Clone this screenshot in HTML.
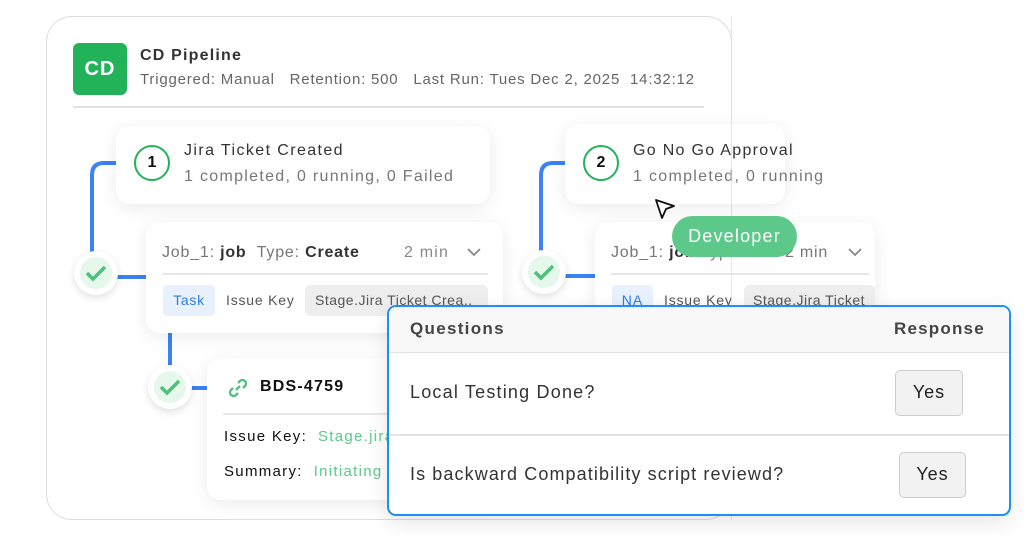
<!DOCTYPE html>
<html><head><meta charset="utf-8"><style>
*{box-sizing:border-box;margin:0;padding:0}
body{width:1034px;height:557px;background:#fff;position:relative;overflow:hidden;font-family:"Liberation Sans",sans-serif;color:#333;letter-spacing:1px}
.a{position:absolute}
.card{position:absolute;background:#fff;border-radius:14px;box-shadow:0 4px 18px rgba(0,0,0,0.08)}
.t{position:absolute;white-space:nowrap}
.chk{position:absolute;width:44px;height:44px;border-radius:50%;background:#fff;box-shadow:0 3px 8px rgba(0,0,0,0.12)}
.chk i{position:absolute;left:6px;top:6px;width:32px;height:32px;border-radius:50%;background:#e6f7ec}
.chk svg{position:absolute;left:11px;top:12px}
.num{position:absolute;width:36px;height:36px;border:2.5px solid #22b35a;border-radius:50%;text-align:center;line-height:31px;font-weight:bold;font-size:16px;color:#111;letter-spacing:0}
.btn{position:absolute;border:1.5px solid #ccc;background:#f2f2f2;border-radius:5px;font-size:18px;text-align:center;color:#222}
</style></head><body>
<div class="a" style="left:46px;top:16px;width:686px;height:504px;border:1.5px solid #ddd;border-radius:26px"></div>
<div class="a" style="left:73px;top:43px;width:54px;height:52px;background:#22b35a;border-radius:6px;color:#fff;font-weight:bold;font-size:20px;text-align:center;line-height:52px">CD</div>
<div class="t" style="left:140px;top:47px;font-size:16px;font-weight:bold;color:#333;letter-spacing:1.2px">CD Pipeline</div>
<div class="t" style="left:140px;top:71px;font-size:15px;color:#666;letter-spacing:0.8px">Triggered: Manual&nbsp;&nbsp;&nbsp;Retention: 500&nbsp;&nbsp;&nbsp;Last Run: Tues Dec 2, 2025&nbsp;&nbsp;14:32:12</div>
<div class="a" style="left:73px;top:106px;width:631px;height:1.5px;background:#e3e3e3"></div>

<svg class="a" style="left:0;top:0" width="1034" height="557">
<path d="M118 163 H104 Q92 163 92 175 V255" stroke="#3b82f6" stroke-width="4" fill="none"/>
<path d="M115 277 H150" stroke="#3b82f6" stroke-width="4"/>
<path d="M170 333 V368" stroke="#3b82f6" stroke-width="4"/>
<path d="M190 388 H210" stroke="#3b82f6" stroke-width="4"/>
<path d="M567 163 H553 Q541 163 541 175 V255" stroke="#3b82f6" stroke-width="4" fill="none"/>
<path d="M563 276 H598" stroke="#3b82f6" stroke-width="4"/>
</svg>

<div class="card" style="left:116px;top:126px;width:374px;height:78px"></div>
<div class="num" style="left:134px;top:145px">1</div>
<div class="t" style="left:184px;top:142px;font-size:16px;color:#333;letter-spacing:1.4px">Jira Ticket Created</div>
<div class="t" style="left:184px;top:168px;font-size:16px;color:#777;letter-spacing:1.3px">1 completed, 0 running, 0 Failed</div>

<div class="chk" style="left:74px;top:251px"><i></i><svg width="22" height="20"><path d="M2 10 L8 16 L20 4" stroke="#4cc27a" stroke-width="3.5" fill="none"/></svg></div>

<div class="card" style="left:146px;top:222px;width:357px;height:111px"></div>
<div class="t" style="left:162px;top:244px;font-size:16px;color:#777;letter-spacing:0.8px">Job_1: <b style="color:#333">job</b>&nbsp; Type: <b style="color:#333;font-weight:600">Create</b></div>
<div class="t" style="left:404px;top:244px;font-size:16px;color:#888;letter-spacing:1.2px">2 min</div>
<svg class="a" style="left:466px;top:246px" width="16" height="12"><path d="M2 3 L8 9 L14 3" stroke="#888" stroke-width="1.8" fill="none"/></svg>
<div class="a" style="left:162px;top:273px;width:326px;height:1.5px;background:#e6e6e6"></div>
<div class="a" style="left:163px;top:285px;width:52px;height:31px;background:#e8f1fd;border-radius:4px;color:#2c7be5;font-size:14px;text-align:center;line-height:31px;letter-spacing:0.7px">Task</div>
<div class="t" style="left:226px;top:292px;font-size:14px;color:#555;letter-spacing:0.8px">Issue Key</div>
<div class="a" style="left:305px;top:285px;width:183px;height:31px;background:#eee;border-radius:5px;font-size:14px;color:#555;line-height:31px;padding-left:10px;white-space:nowrap;overflow:hidden;letter-spacing:0.5px">Stage.Jira Ticket Crea..</div>

<div class="chk" style="left:148px;top:365px"><i></i><svg width="22" height="20"><path d="M2 10 L8 16 L20 4" stroke="#4cc27a" stroke-width="3.5" fill="none"/></svg></div>

<div class="card" style="left:207px;top:358px;width:300px;height:142px"></div>
<svg class="a" style="left:227px;top:377px" width="22" height="22"><g stroke="#4cc27a" stroke-width="2.3" fill="none"><path d="M9 13 L13 9"/><path d="M11 6 L13 4 a3.5 3.5 0 0 1 5 5 L16 11"/><path d="M6 11 L4 13 a3.5 3.5 0 0 0 5 5 L11 16"/></g></svg>
<div class="t" style="left:260px;top:378px;font-size:16px;font-weight:bold;color:#111;letter-spacing:1.2px">BDS-4759</div>
<div class="a" style="left:223px;top:413px;width:280px;height:1.5px;background:#e6e6e6"></div>
<div class="t" style="left:224px;top:428px;font-size:15px;color:#111;letter-spacing:1.3px">Issue Key:&nbsp; <span style="color:#5cc98a">Stage.jira</span></div>
<div class="t" style="left:224px;top:463px;font-size:15px;color:#111;letter-spacing:1.3px">Summary:&nbsp; <span style="color:#5cc98a">Initiating</span></div>

<div class="card" style="left:565px;top:124px;width:220px;height:80px"></div>
<div class="num" style="left:583px;top:145px">2</div>
<div class="t" style="left:633px;top:142px;font-size:16px;color:#333;letter-spacing:1.3px">Go No Go Approval</div>
<div class="t" style="left:633px;top:168px;font-size:16px;color:#777;letter-spacing:1.3px">1 completed, 0 running</div>

<div class="chk" style="left:522px;top:250px"><i></i><svg width="22" height="20"><path d="M2 10 L8 16 L20 4" stroke="#4cc27a" stroke-width="3.5" fill="none"/></svg></div>

<div class="card" style="left:595px;top:222px;width:280px;height:100px"></div>
<div class="t" style="left:611px;top:244px;font-size:16px;color:#777;letter-spacing:0.8px">Job_1: <b style="color:#333">job</b> Type: <b style="color:#333">add</b> 2 min</div>
<svg class="a" style="left:847px;top:246px" width="16" height="12"><path d="M2 3 L8 9 L14 3" stroke="#888" stroke-width="1.8" fill="none"/></svg>
<div class="a" style="left:611px;top:273px;width:258px;height:1.5px;background:#e6e6e6"></div>
<div class="a" style="left:612px;top:285px;width:41px;height:31px;background:#e8f1fd;border-radius:4px;color:#2c7be5;font-size:14px;text-align:center;line-height:31px">NA</div>
<div class="t" style="left:664px;top:292px;font-size:14px;color:#555;letter-spacing:0.8px">Issue Key</div>
<div class="a" style="left:744px;top:285px;width:131px;height:31px;background:#eee;border-radius:5px;font-size:14px;color:#555;line-height:31px;padding-left:9px;white-space:nowrap;overflow:hidden;letter-spacing:0.5px">Stage.Jira Ticket</div>
<div class="a" style="left:731px;top:16px;width:1px;height:504px;background:#ddd;opacity:.7"></div>

<div class="a" style="left:672px;top:216px;width:125px;height:41px;background:#5cc98a;border-radius:21px;color:#fff;font-size:18px;text-align:center;line-height:41px;letter-spacing:1.2px">Developer</div>
<svg class="a" style="left:652px;top:196px" width="26" height="26"><path d="M4 4 L22 10 L14 13 L10 22 Z" fill="#fff" stroke="#111" stroke-width="1.8" stroke-linejoin="round"/></svg>

<div class="a" style="left:387px;top:305px;width:624px;height:211px;border:2.5px solid #1e8ff5;border-radius:9px;background:#fff;overflow:hidden;box-shadow:0 6px 20px rgba(0,0,0,0.1)">
<div class="a" style="left:0;top:0;width:100%;height:46px;background:#f8f8f8;border-bottom:1.5px solid #e3e3e3"></div>
<div class="t" style="left:21px;top:12px;font-size:17px;font-weight:bold;color:#444;letter-spacing:1.3px">Questions</div>
<div class="t" style="left:505px;top:12px;font-size:17px;font-weight:bold;color:#444;letter-spacing:1.2px">Response</div>
<div class="t" style="left:21px;top:75px;font-size:18px;color:#333;letter-spacing:1.2px">Local Testing Done?</div>
<div class="a" style="left:0;top:127px;width:100%;height:1.5px;background:#e3e3e3"></div>
<div class="t" style="left:21px;top:157px;font-size:18px;color:#333;letter-spacing:1.1px">Is backward Compatibility script reviewd?</div>
<div class="btn" style="left:506px;top:63px;width:68px;height:46px;line-height:43px">Yes</div>
<div class="btn" style="left:510px;top:145px;width:67px;height:46px;line-height:43px">Yes</div>
</div>
</body></html>
